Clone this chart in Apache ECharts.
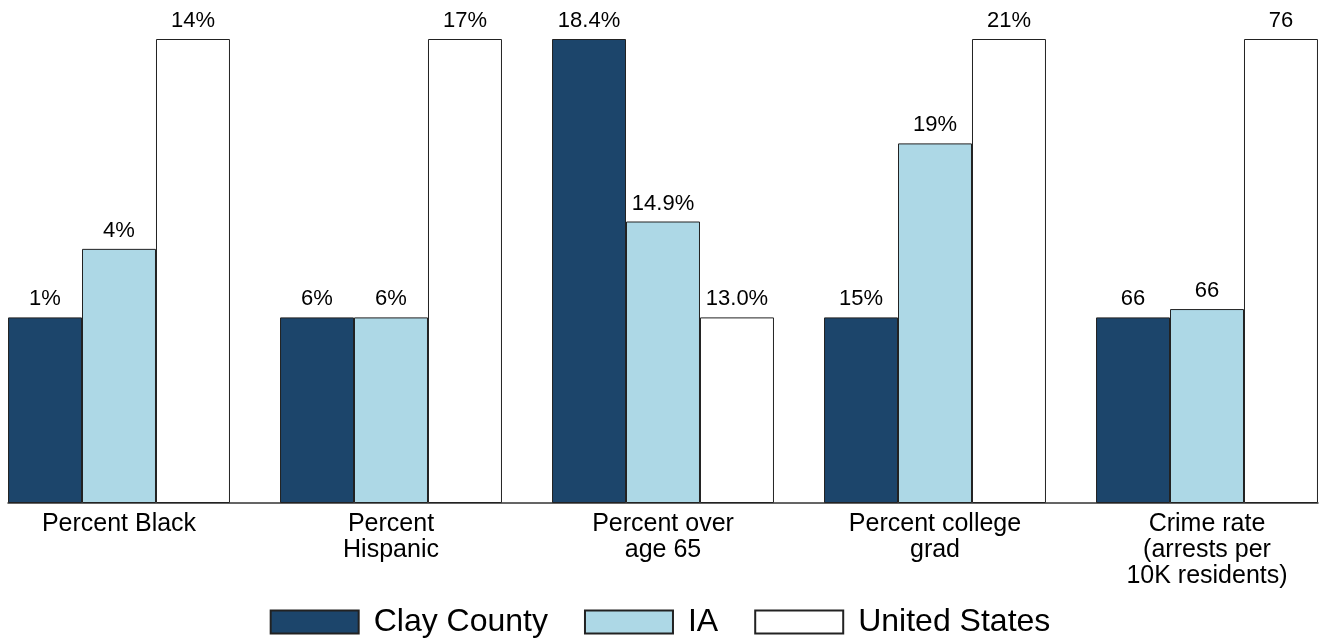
<!DOCTYPE html>
<html>
<head>
<meta charset="utf-8">
<script src="https://cdn.jsdelivr.net/npm/echarts@6/dist/echarts.min.js"></script>
<style>html,body{margin:0;padding:0;background:#fff}#c{width:1320px;height:640px}</style>
</head>
<body>
<div id="c"></div>
<script>
var categories = ['Percent Black', 'Percent\nHispanic', 'Percent over\nage 65', 'Percent college\ngrad', 'Crime rate\n(arrests per\n10K residents)'];
var seriesNames = ['Clay County', 'IA', 'United States'];
var clayCounty = [1.0, 6.0, 18.4, 15.0, 66.0];
var iowa = [4.2, 6.0, 14.86, 18.75, 66.3];
var unitedStates = [14.0, 17.0, 13.0, 21.0, 76.0];
var labelDecimals = [0, 0, 1, 0, 0];
var labelSuffix = ['%', '%', '%', '%', ''];

var allSeries = [clayCounty, iowa, unitedStates];
// each category is drawn on its own relative scale: group min -> 40%, group max -> 100%
function scaled(vals) {
  return vals.map(function (v, i) {
    var col = allSeries.map(function (s) { return s[i]; });
    var mn = Math.min.apply(null, col), mx = Math.max.apply(null, col);
    var h = mx === mn ? 1 : 0.4 + 0.6 * (v - mn) / (mx - mn);
    return { value: h, raw: v };
  });
}
var colors = ['#1c456b', '#add8e6', '#ffffff'];
var font = 'Liberation Sans, Arial, sans-serif';

var chart = echarts.init(document.getElementById('c'));
chart.setOption({
  animation: false,
  backgroundColor: '#fff',
  grid: [
    { left: -17, right: -23, top: 39, bottom: 137, outerBoundsMode: 'none', containLabel: false },
    { left: 8, right: 2, top: 39, bottom: 137, outerBoundsMode: 'none', containLabel: false }
  ],
  legend: {
    top: 601,
    left: 'center',
    itemWidth: 88,
    itemHeight: 23,
    itemGap: 36,
    icon: 'rect',
    textStyle: { fontSize: 32, color: '#000', fontFamily: font, padding: [0, 0, 0, 10] },
    data: seriesNames
  },
  xAxis: [
    {
      type: 'category', gridIndex: 0, data: categories,
      axisLine: { show: false }, axisTick: { show: false },
      axisLabel: { color: '#000', fontSize: 25, lineHeight: 26, fontFamily: font, margin: 8, interval: 0 }
    },
    {
      type: 'category', gridIndex: 1, data: categories,
      axisLine: { show: true, lineStyle: { color: '#333', width: 1.5 } },
      axisTick: { show: false }, axisLabel: { show: false }
    }
  ],
  yAxis: [
    { type: 'value', gridIndex: 0, min: 0, max: 1, show: false },
    { type: 'value', gridIndex: 1, min: 0, max: 1, show: false }
  ],
  series: allSeries.map(function (s, k) {
    return {
      name: seriesNames[k],
      type: 'bar',
      xAxisIndex: 0, yAxisIndex: 0,
      barGap: '0%',
      barCategoryGap: '18.4%',
      data: scaled(s),
      itemStyle: { color: colors[k], borderColor: '#222', borderWidth: 1 },
      label: {
        show: true, position: 'top', distance: 7,
        color: '#000', fontSize: 22, fontFamily: font,
        formatter: function (p) {
          return p.data.raw.toFixed(labelDecimals[p.dataIndex]) + labelSuffix[p.dataIndex];
        }
      }
    };
  })
});
</script>
</body>
</html>
